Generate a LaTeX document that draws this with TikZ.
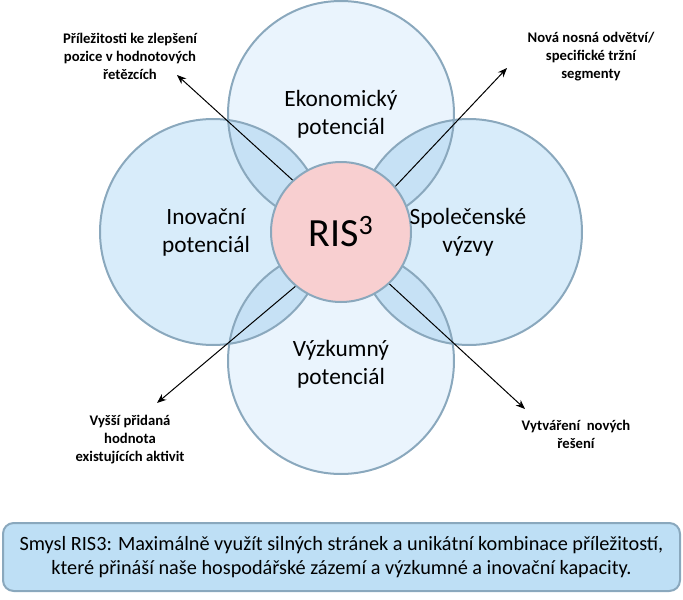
\documentclass[tikz,border=0pt]{standalone}
\usepackage{fontspec}
\setmainfont{Carlito}
\usetikzlibrary{arrows.meta}
\definecolor{edgeblue}{HTML}{8AA8BD}
\definecolor{lightfill}{HTML}{EAF4FD}
\definecolor{midfill}{HTML}{D8ECFA}
\definecolor{lensfill}{HTML}{C6E1F5}
\definecolor{pinkfill}{HTML}{F8CFD0}
\definecolor{boxfill}{HTML}{BEDFF5}
\tikzset{
  outer/.style={circle, draw=edgeblue, line width=1.5pt, minimum size=169.5pt, inner sep=0pt},
  ris/.style={circle, draw=edgeblue, fill=pinkfill, line width=1.5pt, minimum size=105pt, inner sep=0pt, font=\fontsize{30}{36}\selectfont},
  biglbl/.style={align=center, font=\fontsize{17.5}{21}\selectfont, inner sep=0pt},
  smalllbl/.style={align=center, font=\fontsize{11}{13.5}\selectfont\bfseries, inner sep=0pt},
  arr/.style={-{Stealth[length=7pt,width=5.5pt]}, line width=0.75pt, black},
  infobox/.style={draw=edgeblue, fill=boxfill, line width=1.5pt, rounded corners=8pt, minimum width=507.75pt, minimum height=51pt, align=center, font=\fontsize{15.2}{18}\selectfont, inner sep=0pt}
}
\begin{document}
\begin{tikzpicture}[x=0.75pt,y=-0.75pt]
\useasboundingbox (0,0) rectangle (683,600);
% fills
\fill[lightfill] (341,114) circle[radius=113];
\fill[lightfill] (341,361) circle[radius=113];
\fill[midfill] (213,232) circle[radius=113];
\fill[midfill] (469,232) circle[radius=113];
\begin{scope}
  \clip (341,114) circle[radius=113];
  \fill[lensfill] (213,232) circle[radius=113];
  \fill[lensfill] (469,232) circle[radius=113];
\end{scope}
\begin{scope}
  \clip (341,361) circle[radius=113];
  \fill[lensfill] (213,232) circle[radius=113];
  \fill[lensfill] (469,232) circle[radius=113];
\end{scope}
% outlines
\node[outer] (eko) at (341,114) {};
\node[outer] (vyz) at (341,361) {};
\node[outer] (ino) at (213,232) {};
\node[outer] (spo) at (469,232) {};
% centre
\node[ris] (ris) at (341,232) {RIS\textsuperscript{3}};
% circle labels
\node[biglbl] (ekot) at (341,114) {Ekonomický\\potenciál};
\node[biglbl] (vyzt) at (341,364) {Výzkumný\\potenciál};
\node[biglbl] (inot) at (206,232.5) {Inovační\\potenciál};
\node[biglbl] (spot) at (468,232.5) {Společenské\\výzvy};
% arrows
\coordinate (h1) at (177,75);
\coordinate (h2) at (507,68);
\coordinate (h3) at (157,403);
\coordinate (h4) at (525,409);
\draw[arr] (ris.133) -- (h1);
\draw[arr] (ris.40) -- (h2);
\draw[arr] (ris.230) -- (h3);
\draw[arr] (ris.313) -- (h4);
% small labels
\node[smalllbl] (l1) at (130,56) {Příležitosti ke zlepšení\\pozice v hodnotových\\řetězcích};
\node[smalllbl] (l2) at (591,56.5) {Nová nosná odvětví/\\specifické tržní\\segmenty};
\node[smalllbl] (l3) at (130,440) {Vyšší přidaná\\hodnota\\existujících aktivit};
\node[smalllbl] (l4) at (576,434) {Vytváření\ \ nových\\řešení};
% bottom box
\node[infobox] (box) at (341.5,557) {Smysl RIS3: Maximálně využít silných stránek a unikátní kombinace příležitostí,\\které přináší naše hospodářské zázemí a výzkumné a inovační kapacity.};
\end{tikzpicture}
\end{document}
